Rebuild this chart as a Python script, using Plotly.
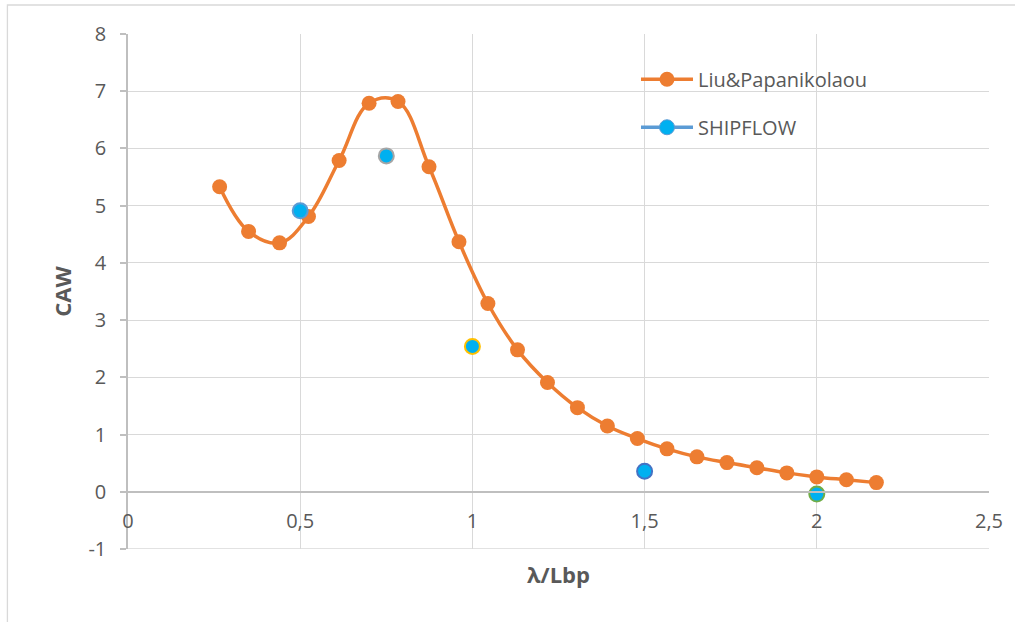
import plotly.graph_objects as go

# Added wave resistance coefficient vs wavelength ratio
liu_x = [0.266, 0.350, 0.440, 0.524, 0.613, 0.700, 0.784, 0.874, 0.961, 1.045,
         1.131, 1.218, 1.305, 1.392, 1.479, 1.565, 1.652, 1.739, 1.826, 1.913,
         2.000, 2.086, 2.173]
liu_y = [5.33, 4.55, 4.35, 4.81, 5.79, 6.79, 6.82, 5.68, 4.37, 3.29,
         2.48, 1.91, 1.47, 1.15, 0.93, 0.75, 0.61, 0.51, 0.42, 0.33,
         0.26, 0.21, 0.16]

ship_x = [0.5, 0.75, 1.0, 1.5, 2.0]
ship_y = [4.91, 5.87, 2.54, 0.36, -0.04]
ship_edge = ["#5B9BD5", "#A5A5A5", "#FFC000", "#4472C4", "#70AD47"]

x_ticks = [0, 0.5, 1, 1.5, 2, 2.5]
x_labels = ["0", "0,5", "1", "1,5", "2", "2,5"]
y_ticks = [-1, 0, 1, 2, 3, 4, 5, 6, 7, 8]
y_labels = ["-1", "0", "1", "2", "3", "4", "5", "6", "7", "8"]

FONT = "Open Sans"
TXT = "#595959"
GRID = "#D9D9D9"
AXIS = "#BFBFBF"

fig = go.Figure()

fig.add_trace(go.Scatter(
    x=liu_x, y=liu_y, mode="lines+markers", name="Liu&Papanikolaou",
    legendgroup="a",
    line=dict(color="#ED7D31", width=3.5, shape="spline", smoothing=1.1),
    marker=dict(color="#ED7D31", size=15),
))

fig.add_trace(go.Scatter(
    x=ship_x, y=ship_y, mode="markers", name="SHIPFLOW", showlegend=False,
    legendgroup="b",
    marker=dict(color="#00B0F0", size=15, line=dict(color=ship_edge, width=2)),
))

# legend entry for SHIPFLOW (line + marker key)
fig.add_trace(go.Scatter(
    x=[None], y=[None], mode="lines+markers", name="SHIPFLOW",
    legendgroup="b",
    line=dict(color="#5B9BD5", width=3.5),
    marker=dict(color="#00B0F0", size=15, line=dict(color="#5B9BD5", width=1)),
))

y0_pos = (0 - y_ticks[0]) / (y_ticks[-1] - y_ticks[0])

fig.update_layout(
    width=1015, height=622,
    margin=dict(l=128, r=23, t=34, b=73),
    paper_bgcolor="white", plot_bgcolor="white",
    font=dict(family=FONT, size=20, color=TXT),
    showlegend=True,
    legend=dict(x=0.59, y=0.95, xanchor="left", yanchor="top",
                bgcolor="rgba(0,0,0,0)", tracegroupgap=19, itemwidth=52,
                font=dict(family=FONT, size=20, color=TXT)),
    xaxis=dict(
        range=[0, 2.5], tickvals=x_ticks, ticktext=x_labels,
        anchor="free", position=y0_pos,
        showgrid=True, gridcolor=GRID, gridwidth=1.3, zeroline=False,
        showline=True, linecolor=AXIS, linewidth=1.5,
        ticks="", ticklabelstandoff=11,
        tickfont=dict(family=FONT, size=20, color=TXT),
        title=dict(text="<b>λ/Lbp</b>", standoff=34,
                   font=dict(family=FONT, size=22, color=TXT)),
    ),
    yaxis=dict(
        range=[-1, 8], tickvals=y_ticks, ticktext=y_labels,
        showgrid=True, gridcolor=GRID, gridwidth=1.3, zeroline=False,
        showline=True, linecolor=AXIS, linewidth=1.5,
        ticks="outside", ticklen=6, tickcolor=AXIS, tickwidth=1.5,
        ticklabelstandoff=10,
        tickfont=dict(family=FONT, size=20, color=TXT),
        title=dict(text="<b>CAW</b>", standoff=11,
                   font=dict(family=FONT, size=22, color=TXT)),
    ),
    shapes=[
        # chart-area frame
        dict(type="rect", xref="paper", yref="paper",
             x0=(7 - 128) / 864, x1=(1030 - 128) / 864,
             y0=(549 - 640) / 515, y1=(549 - 5) / 515,
             line=dict(color="#D9D9D9", width=1.3), layer="below"),
        # bottom gridline of the plot area
        dict(type="line", xref="paper", yref="y",
             x0=0, x1=1, y0=y_ticks[0], y1=y_ticks[0],
             line=dict(color=GRID, width=1.5), layer="below"),
    ],
)

fig.write_html("out.html")
